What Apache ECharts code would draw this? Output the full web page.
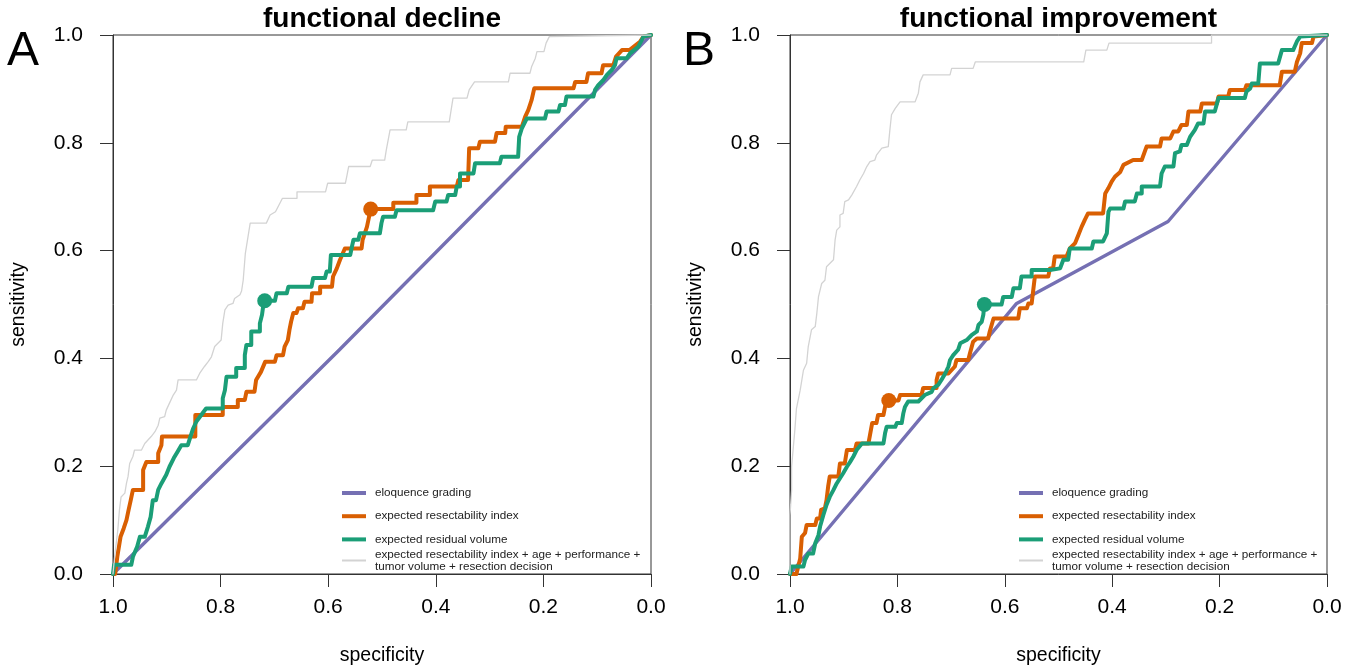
<!DOCTYPE html>
<html><head><meta charset="utf-8">
<script src="https://cdn.jsdelivr.net/npm/echarts@6/dist/echarts.min.js"></script>
<style>html,body{margin:0;padding:0;background:#fff}#c{width:1360px;height:670px}</style>
</head><body><div id="c"></div><script>
// ---- data: [specificity, sensitivity] ----
const tickLabels = ['0.0', '0.2', '0.4', '0.6', '0.8', '1.0'];
const seriesNames = ['eloquence grading', 'expected resectability index', 'expected residual volume',
  'expected resectability index + age + performance + tumor volume + resection decision'];
const panelTitles = ['functional decline', 'functional improvement'];
const panelLetters = ['A', 'B'];

const declineEloquence = [[1, 0], [0.58, 0.415], [0, 1]];
const declineEri = [[1,0],[0.996,0],[0.992,0.032],[0.986,0.069],[0.980,0.085],[0.975,0.100],[0.971,0.119],[0.967,0.137],[0.963,0.156],[0.944,0.156],[0.944,0.193],[0.938,0.208],[0.916,0.208],[0.916,0.224],[0.910,0.239],[0.909,0.255],[0.847,0.255],[0.847,0.295],[0.796,0.295],[0.796,0.310],[0.768,0.310],[0.768,0.323],[0.755,0.323],[0.752,0.338],[0.737,0.338],[0.734,0.360],[0.725,0.375],[0.717,0.394],[0.699,0.394],[0.696,0.406],[0.684,0.406],[0.681,0.422],[0.675,0.434],[0.672,0.453],[0.669,0.468],[0.665,0.484],[0.659,0.484],[0.656,0.493],[0.647,0.493],[0.644,0.505],[0.631,0.505],[0.630,0.521],[0.615,0.521],[0.615,0.533],[0.593,0.533],[0.591,0.552],[0.584,0.567],[0.578,0.583],[0.569,0.604],[0.538,0.604],[0.536,0.620],[0.528,0.644],[0.524,0.663],[0.521,0.677],[0.479,0.677],[0.479,0.689],[0.436,0.689],[0.436,0.703],[0.411,0.703],[0.411,0.719],[0.361,0.719],[0.358,0.731],[0.340,0.731],[0.338,0.790],[0.321,0.790],[0.318,0.802],[0.290,0.802],[0.287,0.818],[0.271,0.818],[0.270,0.830],[0.240,0.830],[0.234,0.848],[0.228,0.861],[0.222,0.879],[0.217,0.901],[0.144,0.901],[0.141,0.913],[0.120,0.913],[0.117,0.929],[0.092,0.929],[0.089,0.944],[0.070,0.944],[0.065,0.960],[0.054,0.972],[0.040,0.972],[0.020,0.988],[0.014,0.997],[0,1]];
const declineErv = [[1,0],[0.998,0.017],[0.966,0.017],[0.963,0.032],[0.955,0.051],[0.950,0.069],[0.941,0.069],[0.935,0.088],[0.930,0.106],[0.926,0.137],[0.920,0.137],[0.916,0.156],[0.910,0.168],[0.901,0.184],[0.895,0.199],[0.887,0.215],[0.880,0.227],[0.873,0.239],[0.861,0.239],[0.856,0.255],[0.851,0.270],[0.845,0.283],[0.836,0.295],[0.827,0.307],[0.796,0.307],[0.796,0.326],[0.792,0.341],[0.789,0.366],[0.771,0.366],[0.771,0.382],[0.755,0.382],[0.755,0.406],[0.752,0.425],[0.743,0.425],[0.743,0.450],[0.727,0.450],[0.727,0.465],[0.723,0.481],[0.721,0.496],[0.718,0.507],[0.699,0.507],[0.696,0.521],[0.677,0.521],[0.674,0.533],[0.631,0.533],[0.628,0.549],[0.606,0.549],[0.603,0.561],[0.597,0.561],[0.595,0.592],[0.559,0.592],[0.556,0.607],[0.553,0.620],[0.544,0.620],[0.541,0.632],[0.504,0.632],[0.501,0.651],[0.498,0.663],[0.476,0.663],[0.473,0.675],[0.405,0.675],[0.401,0.691],[0.380,0.691],[0.377,0.703],[0.364,0.703],[0.361,0.719],[0.355,0.719],[0.355,0.743],[0.330,0.743],[0.327,0.762],[0.281,0.762],[0.278,0.774],[0.247,0.774],[0.245,0.811],[0.240,0.827],[0.231,0.845],[0.197,0.845],[0.194,0.858],[0.172,0.858],[0.169,0.870],[0.160,0.870],[0.157,0.886],[0.107,0.886],[0.104,0.898],[0.098,0.907],[0.089,0.916],[0.082,0.926],[0.073,0.935],[0.067,0.944],[0.064,0.957],[0.045,0.957],[0.039,0.966],[0.024,0.978],[0.017,0.991],[0.014,0.997],[0,1]];
const declineFull = [[1,0],[0.997,0.032],[0.994,0.057],[0.991,0.082],[0.988,0.119],[0.985,0.143],[0.978,0.150],[0.975,0.168],[0.972,0.181],[0.969,0.205],[0.963,0.218],[0.960,0.230],[0.947,0.230],[0.941,0.242],[0.929,0.255],[0.922,0.264],[0.916,0.276],[0.913,0.289],[0.904,0.292],[0.901,0.304],[0.895,0.317],[0.888,0.332],[0.882,0.341],[0.879,0.360],[0.845,0.360],[0.839,0.372],[0.830,0.385],[0.823,0.394],[0.817,0.403],[0.811,0.422],[0.799,0.434],[0.796,0.465],[0.792,0.490],[0.786,0.499],[0.777,0.502],[0.774,0.511],[0.764,0.518],[0.761,0.525],[0.758,0.545],[0.754,0.595],[0.745,0.651],[0.715,0.651],[0.708,0.666],[0.698,0.672],[0.685,0.697],[0.658,0.697],[0.658,0.709],[0.605,0.709],[0.601,0.725],[0.568,0.725],[0.565,0.740],[0.562,0.756],[0.522,0.756],[0.518,0.768],[0.495,0.768],[0.492,0.787],[0.485,0.824],[0.455,0.824],[0.452,0.839],[0.375,0.839],[0.368,0.883],[0.342,0.883],[0.338,0.898],[0.328,0.913],[0.265,0.913],[0.262,0.929],[0.225,0.929],[0.222,0.941],[0.215,0.957],[0.212,0.969],[0.199,0.969],[0.195,0.985],[0.189,0.997],[0.189,1],[0,1]];
const declineEriCut = [[0.521, 0.677]];
const declineErvCut = [[0.718, 0.507]];

const improveEloquence = [[1, 0], [0.578, 0.502], [0.296, 0.654], [0, 1]];
const improveEri = [[1,0],[0.988,0],[0.981,0.029],[0.978,0.069],[0.972,0.076],[0.969,0.091],[0.953,0.091],[0.950,0.103],[0.944,0.103],[0.942,0.119],[0.935,0.122],[0.932,0.137],[0.929,0.162],[0.926,0.181],[0.910,0.181],[0.907,0.205],[0.898,0.205],[0.894,0.230],[0.879,0.230],[0.876,0.242],[0.854,0.242],[0.851,0.258],[0.847,0.280],[0.839,0.280],[0.836,0.295],[0.826,0.295],[0.823,0.310],[0.820,0.317],[0.816,0.322],[0.798,0.322],[0.795,0.332],[0.755,0.332],[0.752,0.345],[0.727,0.345],[0.727,0.360],[0.724,0.372],[0.705,0.372],[0.693,0.385],[0.690,0.397],[0.668,0.397],[0.665,0.409],[0.659,0.431],[0.652,0.437],[0.631,0.437],[0.628,0.450],[0.621,0.474],[0.575,0.474],[0.572,0.493],[0.559,0.493],[0.556,0.502],[0.550,0.502],[0.544,0.552],[0.519,0.552],[0.516,0.567],[0.510,0.567],[0.507,0.589],[0.485,0.589],[0.479,0.604],[0.469,0.614],[0.463,0.629],[0.457,0.644],[0.451,0.657],[0.445,0.669],[0.417,0.669],[0.413,0.706],[0.407,0.716],[0.401,0.728],[0.395,0.737],[0.385,0.746],[0.379,0.759],[0.361,0.768],[0.345,0.768],[0.336,0.793],[0.311,0.793],[0.308,0.808],[0.292,0.808],[0.286,0.821],[0.277,0.821],[0.271,0.833],[0.261,0.833],[0.258,0.858],[0.236,0.858],[0.233,0.873],[0.205,0.873],[0.202,0.886],[0.184,0.886],[0.181,0.898],[0.153,0.898],[0.150,0.907],[0.088,0.907],[0.084,0.932],[0.060,0.932],[0.056,0.950],[0.050,0.966],[0.047,0.985],[0.028,0.985],[0.025,0.997],[0,1]];
const improveErv = [[1,0],[0.997,0.014],[0.975,0.014],[0.972,0.026],[0.966,0.038],[0.957,0.038],[0.953,0.057],[0.947,0.072],[0.944,0.088],[0.938,0.109],[0.932,0.128],[0.926,0.143],[0.919,0.156],[0.913,0.168],[0.901,0.187],[0.894,0.199],[0.888,0.208],[0.882,0.218],[0.876,0.230],[0.866,0.242],[0.826,0.242],[0.823,0.261],[0.820,0.273],[0.804,0.273],[0.801,0.280],[0.792,0.280],[0.789,0.298],[0.786,0.310],[0.780,0.320],[0.761,0.320],[0.755,0.326],[0.749,0.332],[0.736,0.338],[0.733,0.345],[0.724,0.351],[0.718,0.360],[0.711,0.372],[0.705,0.385],[0.702,0.397],[0.696,0.406],[0.687,0.416],[0.683,0.428],[0.671,0.434],[0.662,0.443],[0.652,0.450],[0.649,0.462],[0.643,0.468],[0.640,0.481],[0.638,0.500],[0.606,0.500],[0.603,0.514],[0.587,0.514],[0.584,0.530],[0.572,0.530],[0.569,0.552],[0.550,0.552],[0.550,0.564],[0.516,0.564],[0.513,0.567],[0.497,0.567],[0.491,0.583],[0.482,0.583],[0.479,0.604],[0.438,0.604],[0.435,0.617],[0.417,0.617],[0.410,0.632],[0.407,0.672],[0.404,0.678],[0.379,0.678],[0.376,0.691],[0.358,0.691],[0.354,0.706],[0.345,0.706],[0.345,0.719],[0.311,0.719],[0.308,0.743],[0.302,0.756],[0.286,0.756],[0.283,0.781],[0.274,0.784],[0.271,0.796],[0.261,0.796],[0.255,0.811],[0.246,0.824],[0.240,0.836],[0.230,0.836],[0.227,0.858],[0.209,0.858],[0.202,0.883],[0.153,0.883],[0.150,0.895],[0.143,0.901],[0.140,0.910],[0.128,0.910],[0.125,0.947],[0.091,0.947],[0.084,0.972],[0.063,0.972],[0.056,0.988],[0.050,0.997],[0.050,1],[0,1]];
const improveFull = [[1,0],[1,0.109],[0.997,0.156],[0.997,0.199],[0.991,0.267],[0.988,0.307],[0.981,0.341],[0.975,0.378],[0.969,0.391],[0.966,0.422],[0.960,0.453],[0.953,0.459],[0.950,0.484],[0.947,0.514],[0.941,0.539],[0.935,0.545],[0.932,0.570],[0.926,0.576],[0.919,0.583],[0.916,0.620],[0.913,0.638],[0.907,0.644],[0.907,0.666],[0.901,0.669],[0.898,0.691],[0.891,0.694],[0.885,0.703],[0.876,0.719],[0.870,0.731],[0.863,0.743],[0.857,0.756],[0.851,0.765],[0.842,0.768],[0.839,0.777],[0.829,0.790],[0.817,0.793],[0.814,0.824],[0.811,0.852],[0.804,0.864],[0.795,0.876],[0.767,0.876],[0.761,0.892],[0.758,0.913],[0.752,0.926],[0.702,0.926],[0.699,0.938],[0.659,0.938],[0.655,0.950],[0.453,0.950],[0.449,0.972],[0.410,0.972],[0.406,0.985],[0.215,0.985],[0.215,1],[0,1]];
const improveEriCut = [[0.816, 0.322]];
const improveErvCut = [[0.638, 0.500]];

const panels = [
  { eloq: declineEloquence, eri: declineEri, erv: declineErv, full: declineFull, eriCut: declineEriCut, ervCut: declineErvCut },
  { eloq: improveEloquence, eri: improveEri, erv: improveErv, full: improveFull, eriCut: improveEriCut, ervCut: improveErvCut }
];

// ---- styling / layout ----
const FONT = 'Liberation Sans, Arial, Helvetica, sans-serif';
const colors = ['#7570B3', '#D95F02', '#1B9E77', '#D3D3D3'];
const grids = [
  { left: 113, top: 35, width: 538, height: 539 },
  { left: 790, top: 35, width: 537, height: 539 }
];
const legendLeft = [342, 1019];

const option = {
  animation: false,
  backgroundColor: '#fff',
  grid: grids.map(g => Object.assign({ show: true, borderColor: '#333', borderWidth: 1,
    backgroundColor: 'transparent', containLabel: false, outerBoundsMode: 'none' }, g)),
  xAxis: grids.map((g, i) => ({
    gridIndex: i, type: 'value', min: 0, max: 1, interval: 0.2, inverse: true, position: 'bottom',
    name: 'specificity', nameLocation: 'middle', nameGap: 72,
    nameTextStyle: { fontFamily: FONT, fontSize: 19.5, color: '#000' },
    axisLine: { show: true, onZero: false, lineStyle: { color: '#333', width: 1 } },
    axisTick: { show: true, inside: false, length: 13, lineStyle: { color: '#333', width: 1 } },
    axisLabel: { margin: 23, fontFamily: FONT, fontSize: 21, color: '#000',
      formatter: v => tickLabels[Math.round(v / 0.2)] },
    splitLine: { show: false }
  })),
  yAxis: grids.map((g, i) => ({
    gridIndex: i, type: 'value', min: 0, max: 1, interval: 0.2, position: 'left',
    name: 'sensitivity', nameLocation: 'middle', nameGap: 84,
    nameTextStyle: { fontFamily: FONT, fontSize: 19.5, color: '#000' },
    axisLine: { show: true, onZero: false, lineStyle: { color: '#333', width: 1 } },
    axisTick: { show: true, inside: false, length: 13, lineStyle: { color: '#333', width: 1 } },
    axisLabel: { margin: 30, fontFamily: FONT, fontSize: 21, color: '#000',
      formatter: v => tickLabels[Math.round(v / 0.2)] },
    splitLine: { show: false }
  })),
  legend: [],
  graphic: [],
  series: []
};

panels.forEach((p, i) => {
  const lineSeries = [
    { name: seriesNames[0], data: p.eloq, color: colors[0], width: 3.4 },
    { name: seriesNames[1], data: p.eri, color: colors[1], width: 4 },
    { name: seriesNames[2], data: p.erv, color: colors[2], width: 4 },
    { name: seriesNames[3], data: p.full, color: colors[3], width: 1.3 }
  ];
  lineSeries.forEach(s => option.series.push({
    type: 'line', name: s.name, xAxisIndex: i, yAxisIndex: i, data: s.data,
    showSymbol: false, symbol: 'none', smooth: false, clip: true, color: s.color,
    lineStyle: { color: s.color, width: s.width, cap: 'round', join: 'round' }
  }));
  [[p.eriCut, colors[1], seriesNames[1]], [p.ervCut, colors[2], seriesNames[2]]].forEach(([d, c, n]) =>
    option.series.push({ type: 'scatter', name: n, xAxisIndex: i, yAxisIndex: i, data: d,
      symbol: 'circle', symbolSize: 15, itemStyle: { color: c, opacity: 1 }, z: 3 }));

  option.legend.push({
    orient: 'vertical', left: legendLeft[i], top: 486.5, padding: 0, itemGap: 10.2,
    itemWidth: 24, itemHeight: 4, icon: 'rect',
    data: seriesNames.slice(0, 3), selectedMode: false,
    textStyle: { fontFamily: FONT, fontSize: 11.7, lineHeight: 13, color: '#222', padding: [0, 0, 0, 4] }
  });
  option.legend.push({
    orient: 'vertical', left: legendLeft[i], top: 548.6, padding: 0,
    itemWidth: 24, itemHeight: 2, icon: 'rect',
    data: [seriesNames[3]], selectedMode: false,
    formatter: n => n.replace('performance + ', 'performance +\n'),
    textStyle: { fontFamily: FONT, fontSize: 11.7, lineHeight: 11.8, color: '#222', padding: [0, 0, 0, 4] }
  });

  const g = grids[i];
  option.graphic.push({
    type: 'text', x: g.left + g.width / 2, y: 19.5,
    style: { text: panelTitles[i], fill: '#000', font: 'bold 28px ' + FONT,
      align: 'center', verticalAlign: 'middle', textAlign: 'center', textVerticalAlign: 'middle' }
  });
  option.graphic.push({
    type: 'text', x: i === 0 ? 7 : 683, y: 51.4,
    style: { text: panelLetters[i], fill: '#000', font: '48px ' + FONT,
      align: 'left', verticalAlign: 'middle', textAlign: 'left', textVerticalAlign: 'middle' }
  });
});

const chart = echarts.init(document.getElementById('c'), null, { renderer: 'canvas' });
chart.setOption(option);
</script></body></html>
